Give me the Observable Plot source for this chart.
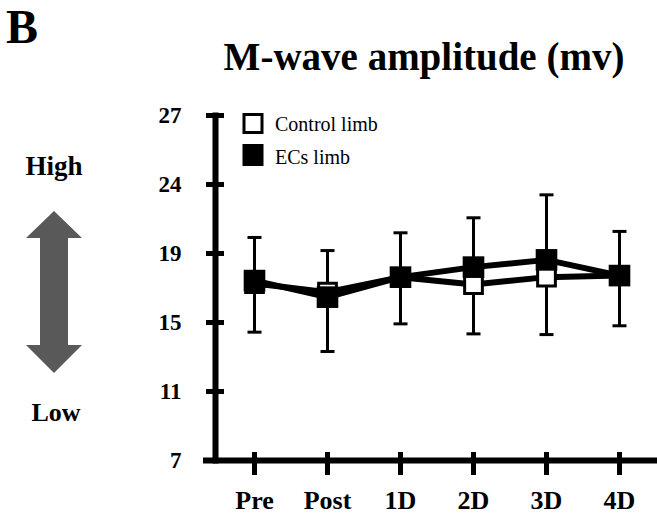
<!DOCTYPE html>
<html>
<head>
<meta charset="utf-8">
<script src="https://cdn.jsdelivr.net/npm/d3@7"></script>
<script src="https://cdn.jsdelivr.net/npm/@observablehq/plot@0.6"></script>
<style>
  html, body { margin: 0; padding: 0; background: #fff; }
  #wrap { position: relative; width: 657px; height: 519px; font-family: "Liberation Serif", "Times New Roman", serif; }
  #wrap > svg { position: absolute; left: 0; top: 0; }
</style>
</head>
<body>
<div id="wrap">
  <svg id="deco" width="657" height="519" style="position:absolute;left:0;top:0;z-index:2" font-family="Liberation Serif, Times New Roman, serif">
    <text x="6" y="43" font-size="48" font-weight="bold">B</text>
    <text x="424" y="70" font-size="39" font-weight="bold" text-anchor="middle">M-wave amplitude (mv)</text>
    <text x="54" y="175" font-size="27" font-weight="bold" text-anchor="middle">High</text>
    <text x="56" y="421" font-size="26" font-weight="bold" text-anchor="middle">Low</text>
    <polygon points="54,211 82,238 68,238 68,345 82,345 54,373 26,345 40,345 40,238 26,238" fill="#595959"/>
    <rect x="244" y="114.5" width="18" height="18" fill="#fff" stroke="#000" stroke-width="3"/>
    <rect x="242.5" y="144" width="21" height="22" fill="#000"/>
    <text x="275" y="131" font-size="20">Control limb</text>
    <text x="275" y="164" font-size="20">ECs limb</text>
  </svg>
</div>
<script>
const timepoints = ["Pre", "Post", "1D", "2D", "3D", "4D"];
const controlLimb = [17.26, 16.76, 17.62, 17.20, 17.63, 17.72];
const ecsLimb     = [17.43, 16.47, 17.63, 18.21, 18.63, 17.72];
const errHigh     = [19.93, 19.17, 20.20, 21.07, 22.40, 20.28];
const errLow      = [14.44, 13.32, 14.92, 14.34, 14.30, 14.81];
const yTicks      = [7, 11, 15, 19, 23, 27];
const yTickLabels = ["7", "11", "15", "19", "24", "27"];

const control = timepoints.map((t, i) => ({t, v: controlLimb[i]}));
const ecs = timepoints.map((t, i) => ({t, v: ecsLimb[i]}));
const errs = timepoints.map((t, i) => ({t, lo: errLow[i], hi: errHigh[i]}));

const font = "Liberation Serif, Times New Roman, serif";

// horizontal-line symbol for error-bar caps (half width = r)
const capSymbol = {
  draw(ctx, size) {
    const w = Math.sqrt(size / Math.PI);
    ctx.moveTo(-w, 0);
    ctx.lineTo(w, 0);
  }
};

const chart = Plot.plot({
  width: 657,
  height: 519,
  marginLeft: 215,
  marginRight: 0,
  marginTop: 115,
  marginBottom: 59,
  style: {fontFamily: font, background: "transparent", overflow: "visible"},
  x: {type: "point", domain: timepoints, padding: 0.5},
  y: {domain: [7, 27]},
  marks: [
    // axis lines
    Plot.frame({anchor: "left", stroke: "#000", strokeWidth: 6}),
    Plot.ruleY([7], {insetLeft: -12, stroke: "#000", strokeWidth: 6}),
    // y ticks (straddling the axis line)
    Plot.axisY({ticks: yTicks, tickSize: 18, dx: 9, tickFormat: () => "", label: null, stroke: "#000", strokeWidth: 5}),
    Plot.axisY({ticks: yTicks, tickSize: 0, tickPadding: 34, label: null,
      tickFormat: d => yTickLabels[yTicks.indexOf(d)],
      fontSize: 23, fontWeight: "bold", fill: "#000"}),
    // x ticks
    Plot.axisX({tickSize: 23, dy: -8, tickFormat: () => "", label: null, stroke: "#000", strokeWidth: 5}),
    Plot.axisX({tickSize: 0, tickPadding: 30, label: null, fontSize: 26, fontWeight: "bold", fill: "#000"}),
    // error bars
    Plot.ruleX(errs, {x: "t", y1: "lo", y2: "hi", stroke: "#000", strokeWidth: 3}),
    Plot.dot(errs, {x: "t", y: "hi", symbol: capSymbol, r: 7, fill: "none", stroke: "#000", strokeWidth: 3}),
    Plot.dot(errs, {x: "t", y: "lo", symbol: capSymbol, r: 7, fill: "none", stroke: "#000", strokeWidth: 3}),
    // lines
    Plot.line(control, {x: "t", y: "v", stroke: "#000", strokeWidth: 6}),
    Plot.line(ecs, {x: "t", y: "v", stroke: "#000", strokeWidth: 6}),
    // markers
    Plot.dot(control, {x: "t", y: "v", symbol: "square", r: 10, fill: "#fff", stroke: "#000", strokeWidth: 3}),
    Plot.dot(ecs, {x: "t", y: "v", symbol: "square", r: 12.2, fill: "#000", stroke: "none"})
  ]
});
document.getElementById("wrap").prepend(chart);
</script>
</body>
</html>
